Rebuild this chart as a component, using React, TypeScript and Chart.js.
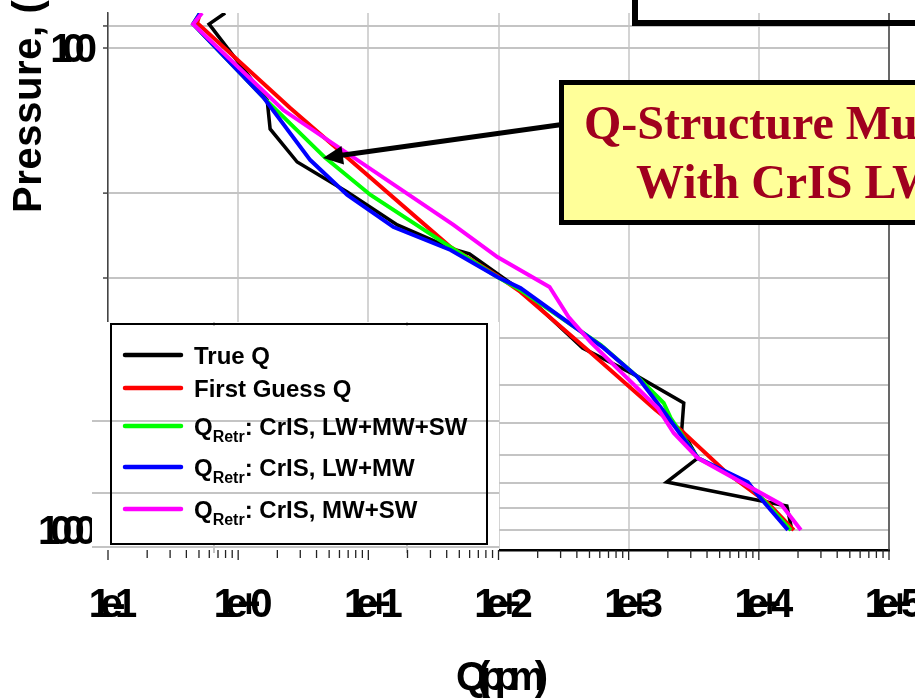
import React, { useEffect, useRef } from 'react';
import { Chart, registerables } from 'chart.js';

Chart.register(...registerables);

// ---------- data (Q in ppm, pressure in hPa) ----------
const trueQ = [0.794, 0.598, 1.67, 1.76, 2.84, 6.89, 16.7, 44.3, 59.8, 147.6, 442.6, 1153, 2650, 2557, 3396, 1960, 16420, 17950];
const trueP = [84.6, 89.2, 128.2, 147.2, 172.4, 199, 232.8, 261, 267.4, 317.7, 419, 478.8, 545, 620, 709, 795, 891.5, 1000];

const firstQ = [0.51, 0.484, 2.51, 42.8, 98.2, 147.6, 484, 1614, 2512, 5572, 11730, 18580];
const firstP = [84.6, 88.7, 133.2, 258.8, 297, 320.6, 423, 563.6, 620, 758, 879, 1000];

const lmsQ = [0.51, 0.451, 1.556, 4.67, 10.4, 42.8, 98.2, 147.6, 609, 1172, 1858, 2104, 3396, 7943, 10350, 17620];
const lmsP = [84.6, 89.2, 126.4, 169, 201.8, 258.8, 298.5, 317.7, 413, 481.6, 545, 585.8, 709, 795, 854, 1000];

const lmQ = [0.51, 0.451, 1.556, 3.58, 6.89, 15.6, 42.8, 98.2, 147.6, 642, 1172, 1827, 3396, 8222, 9823, 16720];
const lmP = [84.6, 89.2, 126.4, 170.8, 201.8, 235.2, 262.4, 298.5, 314.8, 419, 481.6, 563.6, 709, 795, 846, 1000];

const msQ = [0.528, 0.451, 2.22, 45.1, 98.2, 246.7, 345.5, 510, 1671, 2218, 3396, 14760, 21040];
const msP = [84.6, 89.2, 134.5, 232.8, 271.4, 313.2, 361.5, 407.5, 558.3, 629, 709, 883.6, 1000];

const X_DECADES = [0.1, 1, 10, 100, 1000, 10000, 100000];
const X_TICK_LABELS = ['1e-1', '1e+0', '1e+1', '1e+2', '1e+3', '1e+4', '1e+5'];
const Y_TICKS = [90, 100, 200, 300, 400, 500, 600, 700, 800, 900, 1000];
const Y_LABEL_VALUES = [100, 1000];
const Y_LABELS = ['100', '1000'];

const SERIES = [
  { label: 'True Q', q: trueQ, p: trueP, color: '#000000', width: 3.5, order: 4 },
  { label: 'First Guess Q', q: firstQ, p: firstP, color: '#ff0000', width: 4, order: 3 },
  { label: 'CrIS, LW+MW+SW', q: lmsQ, p: lmsP, color: '#00ff00', width: 4, order: 2, retr: true },
  { label: 'CrIS, LW+MW', q: lmQ, p: lmP, color: '#0000ff', width: 4, order: 1, retr: true },
  { label: 'CrIS, MW+SW', q: msQ, p: msP, color: '#ff00ff', width: 4, order: 0, retr: true },
];

const SANS = '"Liberation Sans", Arial, Helvetica, sans-serif';
const SERIF = '"Liberation Serif", "Times New Roman", serif';

function spaced(ctx: CanvasRenderingContext2D, text: string, x: number, y: number, k: number, align: string) {
  const chars = [...text];
  const ws = chars.map((c) => ctx.measureText(c).width);
  const total = ws.reduce((a, b) => a + b, 0) - k * (chars.length - 1);
  let cx = align === 'center' ? x - total / 2 : align === 'right' ? x - total : x;
  ctx.textAlign = 'left';
  chars.forEach((c, i) => {
    ctx.fillText(c, cx, y);
    cx += ws[i] - k;
  });
}

function line(ctx: CanvasRenderingContext2D, x1: number, y1: number, x2: number, y2: number) {
  ctx.beginPath();
  ctx.moveTo(x1, y1);
  ctx.lineTo(x2, y2);
  ctx.stroke();
}

const decorPlugin = {
  id: 'decor',
  afterDraw(chart: any) {
    const { ctx, chartArea: a } = chart;
    const xs = chart.scales.x;
    const ys = chart.scales.y;
    ctx.save();

    // right axis line
    ctx.strokeStyle = '#444';
    ctx.lineWidth = 1.5;
    line(ctx, a.right, a.top, a.right, a.bottom);

    // y outward ticks
    ctx.strokeStyle = '#444';
    ctx.lineWidth = 1.5;
    Y_TICKS.forEach((v) => {
      const py = ys.getPixelForValue(v);
      line(ctx, a.left - 5, py, a.left, py);
    });

    // y tick labels
    ctx.fillStyle = '#000';
    ctx.font = `bold 40px ${SANS}`;
    ctx.textBaseline = 'alphabetic';
    Y_LABEL_VALUES.forEach((v, i) => {
      const py = ys.getPixelForValue(v);
      spaced(ctx, Y_LABELS[i], 97, py + 14, 10, 'right');
    });

    // pasted legend region (white patch with its own faint grid)
    ctx.fillStyle = '#ffffff';
    ctx.fillRect(92, 322, 407, 231);
    ctx.strokeStyle = '#c4c4c4';
    ctx.lineWidth = 2;
    [421, 493, 547].forEach((yy) => line(ctx, 92, yy, 499, yy));
    [214, 407].forEach((xx) => {
      line(ctx, xx, 322, xx, 326);
      line(ctx, xx, 544, xx, 553);
    });

    // legend box
    ctx.strokeStyle = '#000';
    ctx.lineWidth = 2;
    ctx.strokeRect(111, 324, 376, 220);
    const rowY = [355, 388, 426, 467, 509];
    SERIES.forEach((s, i) => {
      const ry = rowY[i];
      ctx.strokeStyle = s.color;
      ctx.lineWidth = 4.5;
      ctx.lineCap = 'round';
      line(ctx, 125, ry, 181, ry);
      ctx.lineCap = 'butt';
      ctx.fillStyle = '#000';
      ctx.textAlign = 'left';
      ctx.textBaseline = 'alphabetic';
      const base = ry + 9;
      if (s.retr) {
        ctx.font = `bold 24px ${SANS}`;
        ctx.fillText('Q', 194, base);
        const qw = ctx.measureText('Q').width;
        ctx.font = `bold 16px ${SANS}`;
        ctx.fillText('Retr', 194 + qw, base + 7);
        const rw = ctx.measureText('Retr').width;
        ctx.font = `bold 24px ${SANS}`;
        ctx.fillText(': ' + s.label, 194 + qw + rw, base);
      } else {
        ctx.font = `bold 24px ${SANS}`;
        ctx.fillText(s.label, 194, base);
      }
    });

    // x ticks (major + minor)
    ctx.strokeStyle = '#222';
    ctx.lineWidth = 1.3;
    X_DECADES.forEach((d, i) => {
      const px = xs.getPixelForValue(d);
      line(ctx, px, a.bottom, px, a.bottom + 10);
      if (i < X_DECADES.length - 1) {
        for (let m = 2; m <= 9; m++) {
          const pm = xs.getPixelForValue(d * m);
          line(ctx, pm, a.bottom, pm, a.bottom + 8);
        }
      }
    });

    // x tick labels
    ctx.fillStyle = '#000';
    ctx.font = `bold 40px ${SANS}`;
    X_DECADES.forEach((d, i) => {
      const px = xs.getPixelForValue(d);
      spaced(ctx, X_TICK_LABELS[i], px + 5, 617, 10.5, 'center');
    });

    // x axis title
    spaced(ctx, 'Q(ppm)', 502, 690, 10, 'center');

    // y axis title (rotated)
    ctx.save();
    ctx.translate(41, 213);
    ctx.rotate(-Math.PI / 2);
    ctx.font = `bold 40px ${SANS}`;
    spaced(ctx, 'Pressure, (hPa)', 0, 0, -0.6, 'left');
    ctx.restore();

    // arrow from annotation box
    ctx.strokeStyle = '#000';
    ctx.fillStyle = '#000';
    ctx.lineWidth = 5;
    line(ctx, 562, 124.5, 340, 155.5);
    ctx.beginPath();
    ctx.moveTo(323, 158);
    ctx.lineTo(341.5, 146);
    ctx.lineTo(344, 164.5);
    ctx.closePath();
    ctx.fill();

    // yellow annotation box
    ctx.fillStyle = '#ffff99';
    ctx.fillRect(561.5, 82.5, 420, 140);
    ctx.strokeStyle = '#000';
    ctx.lineWidth = 5;
    ctx.strokeRect(561.5, 82.5, 420, 140);
    ctx.fillStyle = '#a0001e';
    ctx.font = `bold 48px ${SERIF}`;
    ctx.textAlign = 'left';
    ctx.fillText('Q-Structure Much Improved', 584, 139);
    ctx.fillText('With CrIS LW+MW+SW', 636, 198);

    // top-right box (cut off)
    ctx.strokeStyle = '#000';
    ctx.lineWidth = 6;
    ctx.strokeRect(635, -30, 400, 53);

    ctx.restore();
  },
};

export default function App() {
  const ref = useRef<HTMLCanvasElement | null>(null);
  useEffect(() => {
    if (!ref.current) return;
    const chart = new Chart(ref.current, {
      type: 'scatter',
      data: {
        datasets: SERIES.map((s) => ({
          label: s.label,
          data: s.q.map((q, i) => ({ x: q, y: s.p[i] })),
          showLine: true,
          borderColor: s.color,
          backgroundColor: s.color,
          borderWidth: s.width,
          pointRadius: 0,
          order: s.order,
          tension: 0,
        })),
      },
      options: {
        animation: false,
        responsive: false,
        devicePixelRatio: 1,
        layout: { padding: { left: 108, right: 26, top: 13, bottom: 149 } },
        plugins: { legend: { display: false }, tooltip: { enabled: false }, title: { display: false } },
        scales: {
          x: {
            type: 'logarithmic',
            min: 0.1,
            max: 100000,
            afterBuildTicks: (scale: any) => {
              scale.ticks = X_DECADES.map((v) => ({ value: v }));
            },
            ticks: { display: false },
            grid: { color: '#d4d4d4', lineWidth: 2, drawTicks: false },
            border: { display: true, color: '#000', width: 2.5 },
            title: { display: false },
          },
          y: {
            type: 'logarithmic',
            reverse: true,
            min: 84.6,
            max: 1100,
            afterBuildTicks: (scale: any) => {
              scale.ticks = Y_TICKS.map((v) => ({ value: v }));
            },
            ticks: { display: false },
            grid: { color: '#c4c4c4', lineWidth: 2, drawTicks: false },
            border: { display: true, color: '#444', width: 1.5 },
            title: { display: false },
          },
        },
      },
      plugins: [decorPlugin],
    });
    return () => chart.destroy();
  }, []);

  return (
    <div style={{ position: 'fixed', left: 0, top: 0, width: 915, height: 699, background: '#fff' }}>
      <canvas ref={ref} width={915} height={699} style={{ display: 'block' }} />
    </div>
  );
}
